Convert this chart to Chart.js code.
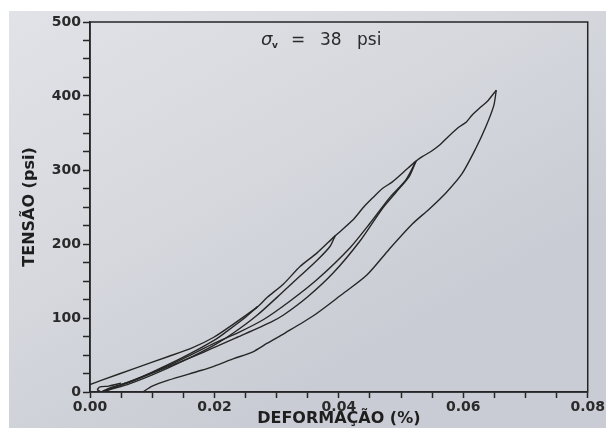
<!DOCTYPE html>
<html>
<head>
<meta charset="utf-8">
<script src="https://cdn.jsdelivr.net/npm/chart.js@4"></script>
<style>
  html, body { margin:0; padding:0; background:#fff; }
  #wrap { position:relative; width:606px; height:428px; }
</style>
</head>
<body>
<div id="wrap"><canvas id="hystChart" width="606" height="428"></canvas></div>
<script>
// stress-strain loops: [strain %, stress psi]
const upperEnvelope = [
  [0.000,10],[0.0019,16],[0.0072,32],[0.0126,48],[0.0165,60],[0.0199,74],[0.0231,92],
  [0.0269,115],[0.0285,128],[0.0311,146],[0.0338,170],[0.0365,188],[0.0394,211],
  [0.0422,232],[0.0440,250],[0.0454,262],[0.0470,275],[0.0486,284],[0.0505,298],
  [0.0524,312],[0.0534,318],[0.0548,325],[0.0561,333],[0.0577,346],[0.0593,358],
  [0.0605,365],[0.0614,374],[0.0628,385],[0.0640,394],[0.0653,408]
];
const loopA_lower = [
  [0.0653,408],[0.0649,387],[0.0636,358],[0.0620,329],[0.0598,295],[0.0572,269],
  [0.0545,247],[0.0518,227],[0.0481,193],[0.0445,158],[0.0402,130],[0.0359,103],
  [0.0314,80],[0.0285,66],[0.0261,54],[0.0231,45],[0.0200,35],[0.0178,29],
  [0.0126,16],[0.0100,8],[0.0085,0]
];
const loopB_upper = [
  [0.0524,312],[0.0508,287],[0.0481,262],[0.0450,228],[0.0418,195],[0.0365,152],
  [0.0320,122],[0.0279,98],[0.0240,81],[0.0200,66],[0.0150,45],[0.0100,26],
  [0.0060,12],[0.0030,4],[0.0020,0]
];
const loopB_lower = [
  [0.0524,312],[0.0513,291],[0.0492,270],[0.0470,248],[0.0433,203],[0.0390,160],
  [0.0349,128],[0.0311,104],[0.0290,94],[0.0237,74],[0.0183,54],[0.0131,36],
  [0.0083,20],[0.0051,10],[0.0030,3],[0.0025,0]
];
const loopC_lower = [
  [0.0394,211],[0.0386,197],[0.0365,178],[0.0338,157],[0.0311,136],[0.0269,104],
  [0.0231,80],[0.0199,63],[0.0150,42],[0.0100,23],[0.0060,10],[0.0030,3],[0.0020,0]
];
const loopD_lower = [
  [0.0269,115],[0.0250,101],[0.0220,82],[0.0200,70],[0.0150,47],[0.0100,27],
  [0.0060,13],[0.0030,5],[0.0018,0]
];
const startHooks = [
  [0.0018,0],[0.0012,3],[0.0016,7],[0.0030,8],[0.0050,12]
];

const xLabels = [0, 0.02, 0.04, 0.06, 0.08];
const yLabels = [0, 100, 200, 300, 400, 500];
const subtitleParts = ['σ', 'v', '=', '38', 'psi'];

const curves = [upperEnvelope, loopA_lower, loopB_upper, loopB_lower, loopC_lower, loopD_lower, startHooks];

const ink = '#262626';

const paperPlugin = {
  id: 'paper',
  beforeDraw(chart) {
    const c = chart.ctx;
    c.save();
    c.fillStyle = '#ffffff';
    c.fillRect(0, 0, chart.width, chart.height);
    const g = c.createLinearGradient(0, 0, chart.width * 0.4, chart.height);
    g.addColorStop(0, '#e2e3e8');
    g.addColorStop(0.55, '#d6d8de');
    g.addColorStop(1, '#c9ccd4');
    c.fillStyle = g;
    c.fillRect(9, 11, chart.width - 9, chart.height - 11);
    c.restore();
  },
  afterDraw(chart) {
    const c = chart.ctx;
    const a = chart.chartArea;
    c.save();
    c.strokeStyle = ink;
    c.lineWidth = 1.5;
    c.strokeRect(a.left, a.top, a.right - a.left, a.bottom - a.top);

    // sigma_v = 38 psi
    c.fillStyle = '#2a2a2a';
    c.textBaseline = 'alphabetic';
    c.font = 'italic 18px "DejaVu Sans"';
    c.fillText(subtitleParts[0], 261, 45);
    c.font = 'bold 9px "DejaVu Sans"';
    c.fillText(subtitleParts[1], 272, 48);
    c.font = '17px "DejaVu Sans"';
    c.fillText(subtitleParts[2], 291, 45);
    c.fillText(subtitleParts[3], 320, 45);
    c.fillText(subtitleParts[4], 357, 45);
    c.restore();
  }
};

const near = (v, list) => list.some(t => Math.abs(v - t) < 1e-7);

new Chart(document.getElementById('hystChart'), {
  type: 'scatter',
  data: {
    datasets: curves.map(pts => ({
      data: pts.map(p => ({ x: p[0], y: p[1] })),
      showLine: true,
      borderColor: ink,
      borderWidth: 1.4,
      pointRadius: 0,
      tension: 0.25,
      fill: false
    }))
  },
  plugins: [paperPlugin],
  options: {
    responsive: false,
    animation: false,
    layout: { padding: { left: 0, top: 22, right: 18, bottom: 0 } },
    plugins: { legend: { display: false }, tooltip: { enabled: false } },
    scales: {
      x: {
        type: 'linear',
        min: 0, max: 0.08,
        afterFit(scale) { scale.height = 36; },
        border: { display: true, color: ink, width: 1.5 },
        grid: { drawOnChartArea: false, drawTicks: true, tickLength: 6, tickColor: ink, tickWidth: 1.5 },
        ticks: {
          stepSize: 0.005,
          autoSkip: false,
          maxRotation: 0,
          padding: 1,
          color: '#2a2a2a',
          font: { family: 'DejaVu Sans', weight: 'bold', size: 14 },
          callback: v => near(v, xLabels) ? v.toFixed(2) : ''
        },
        title: {
          display: true,
          text: 'DEFORMAÇÃO (%)',
          color: '#1e1e1e',
          padding: { top: 0, bottom: 0 },
          font: { family: 'DejaVu Sans', weight: 'bold', size: 16 }
        }
      },
      y: {
        type: 'linear',
        min: 0, max: 500,
        afterFit(scale) { scale.width = 90; },
        border: { display: true, color: ink, width: 1.5 },
        grid: { drawOnChartArea: false, drawTicks: true, tickLength: 7, tickColor: ink, tickWidth: 1.5 },
        ticks: {
          stepSize: 25,
          autoSkip: false,
          padding: 2,
          color: '#2a2a2a',
          font: { family: 'DejaVu Sans', weight: 'bold', size: 14 },
          callback: v => near(v, yLabels) ? String(v) : ''
        },
        title: {
          display: true,
          text: 'TENSÃO (psi)',
          color: '#1e1e1e',
          padding: { top: 20, bottom: 0 },
          font: { family: 'DejaVu Sans', weight: 'bold', size: 16 }
        }
      }
    }
  }
});
</script>
</body>
</html>
